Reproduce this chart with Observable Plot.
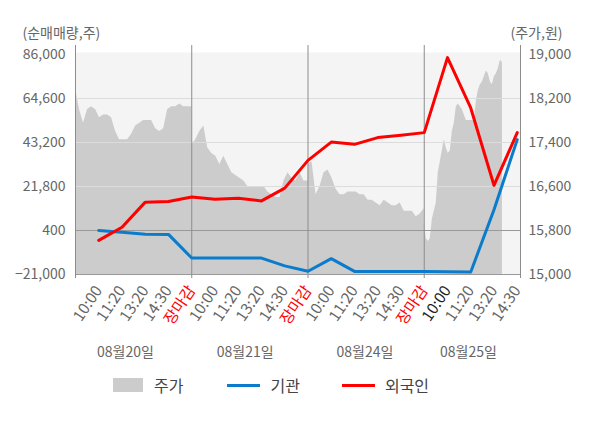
<!DOCTYPE html>
<html><head><meta charset="utf-8">
<script src="https://cdn.jsdelivr.net/npm/d3@7"></script>
<script src="https://cdn.jsdelivr.net/npm/@observablehq/plot@0.6"></script>
<style>
body{margin:0;background:#fff;font-family:"Noto Sans CJK KR","Noto Sans",sans-serif;}
#chart svg{display:block;}
#legend{display:flex;align-items:center;height:20px;margin-top:7px;padding-left:113px;font-size:16px;color:#444;}
#legend .item{display:flex;align-items:center;}
#legend .sw{width:30px;height:14px;background:#cccccc;margin-right:11px;}
#legend .ln{width:33px;height:3px;margin-right:10px;}
</style></head><body>
<div id="chart"></div>
<div id="legend"></div>
<script>
// ---- data ----
const tickLabels = ["10:00","11:20","13:20","14:30","장마감",
                    "10:00","11:20","13:20","14:30","장마감",
                    "10:00","11:20","13:20","14:30","장마감",
                    "10:00","11:20","13:20","14:30"];
const dayLabels = ["08월20일","08월21일","08월24일","08월25일"];
const seriesNames = ["주가","기관","외국인"];
// net buying (shares) at each tick label
const institution = [400,-400,-1400,-1500,-13000,-13000,-13000,-13000,-16800,-19400,
                     -13300,-19500,-19500,-19500,-19600,-19700,-19800,10500,44600];
const foreign = [-4400,2000,14200,14500,16650,15600,16100,14800,21000,34500,
                 43400,42300,45600,46700,48000,84500,60000,22350,48000];
// intraday price (won)
const priceDay1 = [18380,18000,17750,18000,18050,18000,17850,17900,17900,17850,
                   17600,17450,17450,17450,17550,17700,17750,17800,17800,17800,
                   17650,17600,17650,18000,18050,18050,18100,18050,18050,18050];
const priceDay2 = [17350,17450,17600,17700,17300,17200,17150,17000,17150,17000,
                   16850,16800,16750,16700,16600,16600,16600,16600,16600,16500,
                   16450,16400,16400,16700,16850,16750,16700,16850,16700,16700];
const priceDay3 = [17000,17050,16450,16600,16850,16900,16750,16550,16450,16450,
                   16500,16500,16500,16450,16450,16350,16350,16300,16250,16350,
                   16300,16250,16250,16300,16150,16150,16150,16050,16100,16200];
const priceDay4 = [15950,15650,15600,15650,16000,16150,16300,16850,17050,17250,
                   17450,17300,17200,17250,17600,17750,18050,18100,18050,18000,
                   17900,17800,17800,17800,17800,17800,18150,18350,18450,18500,
                   18600,18700,18650,18500,18450,18600,18650,18750,18900,18850];
const leftTicks = [-21000,400,21800,43200,64600,86000];
const rightTicks = [15000,15800,16600,17400,18200,19000];

// ---- layout / scales ----
const L0 = leftTicks[0], L1 = leftTicks[leftTicks.length-1];
const P0 = rightTicks[0], P1 = rightTicks[rightTicks.length-1];
const toLeft = p => L0 + (p - P0) / (P1 - P0) * (L1 - L0);
const toPrice = v => P0 + (v - L0) / (L1 - L0) * (P1 - P0);
const SLOTS = 5; // tick slots per day
const days = [priceDay1, priceDay2, priceDay3, priceDay4];
const intervals = [29, 29, 29, 58];
const priceData = days.flatMap((arr, d) =>
  arr.map((p, i) => ({x: d*SLOTS + i*SLOTS/intervals[d], v: toLeft(p)})));
const inst = institution.map((v,i)=>({x:i+1, v}));
const forg = foreign.map((v,i)=>({x:i+1, v}));
const ticks = tickLabels.map((t,i)=>({x:i+1, t, hl: i===15}));
const dayOffsets = [2.15, 2.3, 2.45, 1.9];
const dayData = dayLabels.map((t,d)=>({x:d*SLOTS + dayOffsets[d], t}));
const xMax = 19.14;
const fmt = d3.format(",");
const gray = "#666";

const chart = Plot.plot({
  width: 600, height: 368,
  marginLeft: 75, marginRight: 80, marginTop: 54, marginBottom: 94,
  style: {fontFamily: '"Noto Sans CJK KR","Noto Sans",sans-serif', fontSize: "14px", background: "#fff"},
  x: {type: "linear", domain: [0, xMax], axis: null},
  y: {domain: [L0, L1], axis: null},
  marks: [
    Plot.frame({fill: "#f4f4f4", stroke: null, insetTop: -2}),
    Plot.areaY(priceData, {x: "x", y1: () => L0, y2: "v", fill: "#cccccc"}),
    Plot.ruleY(leftTicks.slice(2, 5), {stroke: "#dcdcdc", strokeWidth: 1}),
    Plot.ruleY([leftTicks[1]], {stroke: "#999", strokeWidth: 1}),
    Plot.ruleY([L0], {stroke: "#999", strokeWidth: 1}),
    Plot.ruleX([0, 5, 10, 15, xMax], {stroke: "#8c8c8c", strokeWidth: 1, insetTop: -9, insetBottom: -4}),
    Plot.line(inst, {x: "x", y: "v", stroke: "#0a7ccb", strokeWidth: 3}),
    Plot.line(forg, {x: "x", y: "v", stroke: "#ff0000", strokeWidth: 3}),
    Plot.axisY({anchor: "left", ticks: leftTicks, tickFormat: fmt, tickSize: 0, tickPadding: 10, color: gray, fontSize: 14, label: null}),
    Plot.axisY({anchor: "right", ticks: rightTicks.map(toLeft), tickFormat: v => fmt(Math.round(toPrice(v))), tickSize: 0, tickPadding: 8, color: gray, fontSize: 14, label: null}),
    Plot.text(ticks, {x: "x", text: "t", frameAnchor: "bottom", rotate: -56, textAnchor: "end", lineAnchor: "middle", dy: 13, dx: 0,
      fill: d => d.t === "장마감" ? "#ff0000" : d.hl ? "#222" : gray, fontSize: 15.5}),
    Plot.text(dayData, {x: "x", text: "t", frameAnchor: "bottom", lineAnchor: "middle", dy: 78, fill: gray, fontSize: 14}),
    Plot.text(["(순매매량,주)"], {frameAnchor: "top-left", lineAnchor: "middle", dx: -53, dy: -21, textAnchor: "start", fill: gray, fontSize: 14}),
    Plot.text(["(주가,원)"], {frameAnchor: "top-right", lineAnchor: "middle", dx: -10, dy: -21, textAnchor: "start", fill: gray, fontSize: 14})
  ]
});
document.getElementById("chart").appendChild(chart);

const legend = document.getElementById("legend");
const colors = [null, "#0a7ccb", "#ff0000"];
const gaps = [44, 42, 0];
seriesNames.forEach((n, i) => {
  const item = document.createElement("div");
  item.className = "item";
  item.style.marginRight = gaps[i] + "px";
  const s = document.createElement("div");
  if (i === 0) s.className = "sw"; else { s.className = "ln"; s.style.background = colors[i]; }
  const t = document.createElement("span");
  t.textContent = n;
  item.appendChild(s); item.appendChild(t);
  legend.appendChild(item);
});
</script>
</body></html>
